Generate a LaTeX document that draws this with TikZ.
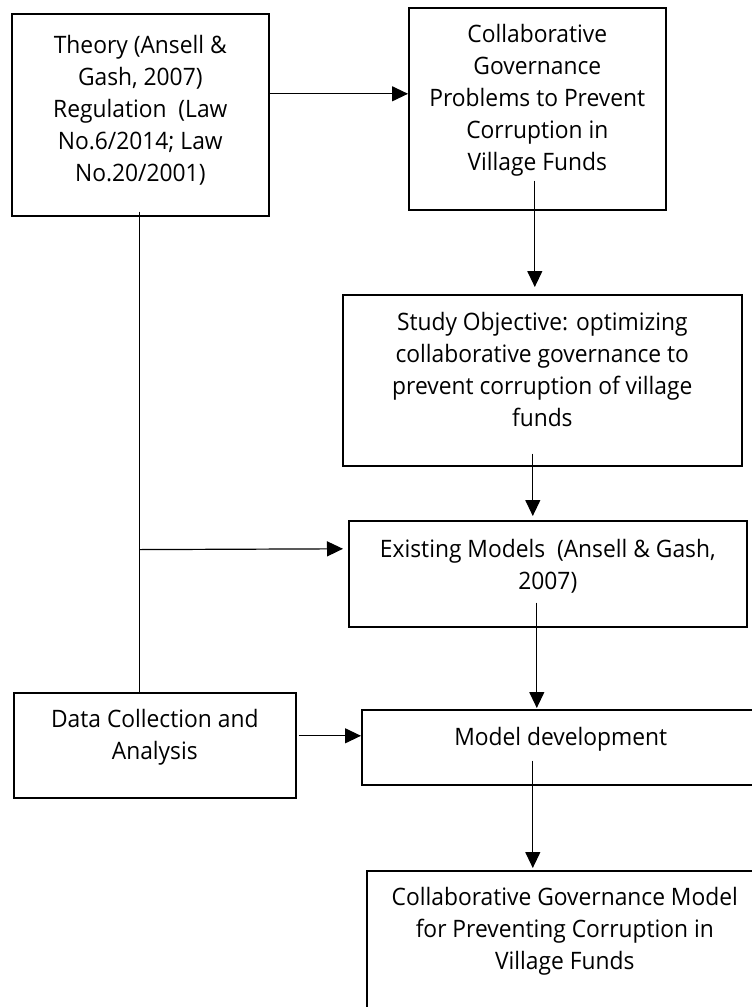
\documentclass[tikz,border=0pt]{standalone}
\usepackage{fontspec}
\setmainfont{Open Sans}[FakeStretch=0.95]
\usetikzlibrary{arrows.meta,calc}
\newcommand\btext[4]{\parbox[c][#2][t]{#1}{\centering\rule{0pt}{#3}#4\par}}
\begin{document}
\begin{tikzpicture}[x=1pt,y=-1pt,
  box/.style={draw, line width=1.6pt, inner sep=0pt, anchor=north west,
    font=\fontsize{24}{32}\selectfont},
  arr/.style={line width=1.2pt, -{Triangle[length=16pt,width=15pt]}},
  ln/.style={line width=1.2pt}]
\useasboundingbox (0,0) rectangle (752,1007);
\clip (0,0) rectangle (752,1007);
\fill[white] (0,0) rectangle (752,1007);
\node[box] (b1) at (11,13) {\btext{257pt}{202pt}{40pt}{Theory (Ansell \&\\Gash, 2007)\\Regulation~ (Law\\No.6/2014; Law\\No.20/2001)}};
\node[box] (b2) at (408,7) {\btext{257pt}{202pt}{35pt}{Collaborative\\Governance\\Problems to Prevent\\Corruption in\\Village Funds}};
\node[box] (b3) at (342,294) {\btext{399pt}{171pt}{36pt}{Study Objective: optimizing\\collaborative governance to\\prevent corruption of village\\funds}};
\node[box] (b4) at (348,520) {\btext{398pt}{106pt}{37pt}{Existing Models~ (Ansell \& Gash,\\2007)}};
\node[box] (b5) at (13,692) {\btext{282pt}{105pt}{35pt}{Data Collection and\\Analysis}};
\node[box] (b6) at (361,709) {\btext{398pt}{75pt}{36pt}{Model development}};
\node[box] (b7) at (366,870) {\btext{396pt}{160pt}{35pt}{Collaborative Governance Model\\for Preventing Corruption in\\Village Funds}};
% connectors
\draw[arr] ($(b1.east)+(0,-21)$) -- ($(b2.west)+(0,-15)$);
\draw[arr] ($(b2.south)+(-2.5,-30)$) -- ($(b3.north)+(-7.5,-7)$);
\draw[arr] ($(b3.south)+(-9.5,-13)$) -- ($(b4.north)+(-15,-4)$);
\draw[arr] ($(b4.south)+(-11,-25)$) -- ($(b6.north)+(-24,-1)$);
\draw[arr] ($(b6.south)+(-28,-25)$) -- ($(b7.north)+(-32,-2)$);
\draw[ln] ($(b1.south)+(-0.5,-5)$) -- ($(b5.north)+(-15,0)$);
\coordinate (j) at ($(b1.south)+(-0.5,333)$);
\draw[arr] (j) -- ($(b4.west)+(-5,-25)$);
\draw[arr] ($(b5.east)+(2,-9.5)$) -- ($(b6.west)+(0,-11.5)$);
\end{tikzpicture}
\end{document}
